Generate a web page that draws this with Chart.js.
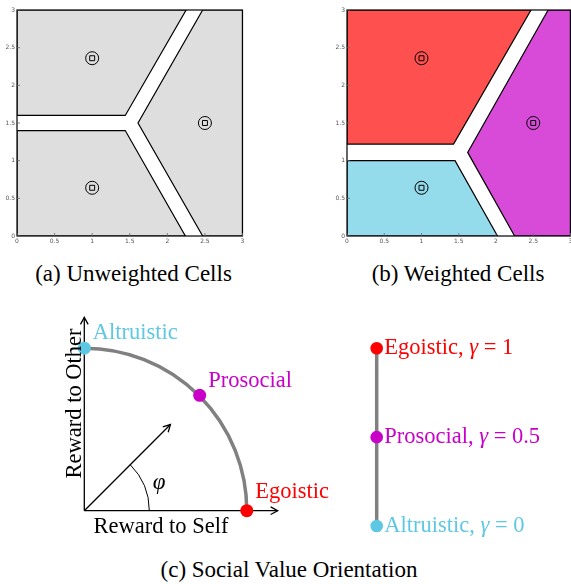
<!DOCTYPE html>
<html>
<head>
<meta charset="utf-8">
<script src="https://cdn.jsdelivr.net/npm/chart.js@4.4.1/dist/chart.umd.min.js"></script>
<style>
  html, body { margin: 0; padding: 0; background: #fff; }
  body { position: relative; width: 571px; height: 584px; overflow: hidden; }
  canvas { position: absolute; }
  .caption { position: absolute; font: 23px "Liberation Serif", serif; line-height: 23px; color: #000; text-align: center; white-space: nowrap; }
</style>
</head>
<body>
<canvas id="unweighted" width="250" height="246" style="left:0;top:0"></canvas>
<canvas id="weighted" width="248" height="246" style="left:330px;top:0"></canvas>
<canvas id="svo" width="310" height="245" style="left:40px;top:300px"></canvas>
<canvas id="gamma" width="231" height="225" style="left:340px;top:320px"></canvas>
<div class="caption" style="left:0;top:262px;width:267px">(a) Unweighted Cells</div>
<div class="caption" style="left:330px;top:262px;width:256px">(b) Weighted Cells</div>
<div class="caption" style="left:100px;top:558px;width:378px">(c) Social Value Orientation</div>

<script>
// agent positions (same in both cell plots)
const siteX = [1, 1, 2.5]
const siteY = [2.36, 0.64, 1.5]

// unweighted cells
const gridTopX = [0, 2.25, 1.44, 0, 0]
const gridTopY = [3, 3, 1.6, 1.6, 3]
const gridBottomX = [0, 1.44, 2.24, 0, 0]
const gridBottomY = [1.4, 1.4, 0, 0, 1.4]
const gridRightX = [2.47, 3, 3, 2.47, 1.61, 2.47]
const gridRightY = [3, 3, 0, 0, 1.5, 3]

// weighted cells
const egoCellX = [0, 2.47, 1.43, 0, 0]
const egoCellY = [3, 3, 1.22, 1.22, 3]
const altCellX = [0, 1.45, 2.02, 0, 0]
const altCellY = [1.0, 1.0, 0, 0, 1.0]
const proCellX = [2.70, 3, 3, 2.25, 1.62, 2.70]
const proCellY = [3, 3, 0, 0, 1.11, 3]

// social value orientation (reward to self / reward to other)
const svoNames = ["Altruistic", "Prosocial", "Egoistic"]
const svoSelf = [0, 0.71, 1]
const svoOther = [1, 0.71, 0]
const svoColors = ["#5ec8e4", "#c800c8", "#ff0000"]
// axis arrows, all start at the origin
const arrowEndX = [1.19, 0, 0.53]
const arrowEndY = [0, 1.19, 0.53]

// gamma scale on the right
const gammaNames = ["Egoistic", "Prosocial", "Altruistic"]
const gammaValues = [1, 0.5, 0]
const gammaColors = ["#ff0000", "#c800c8", "#5ec8e4"]

const zip = (xs, ys) => xs.map((x, i) => ({ x: x, y: ys[i] }))
const SERIF = '"Liberation Serif", "Times New Roman", serif'

// box around the plot + short inward ticks
const framePlugin = {
  id: "frame",
  afterDatasetsDraw(chart) {
    const { ctx, chartArea: a, scales } = chart
    ctx.save()
    ctx.strokeStyle = "#000"
    ctx.lineWidth = 1.2
    ctx.strokeRect(a.left, a.top, a.right - a.left, a.bottom - a.top)
    ctx.lineWidth = 0.8
    ctx.strokeStyle = "#666"
    ctx.beginPath()
    scales.x.ticks.forEach(t => {
      const px = scales.x.getPixelForValue(t.value)
      ctx.moveTo(px, a.bottom)
      ctx.lineTo(px, a.bottom - 3)
    })
    scales.y.ticks.forEach(t => {
      const py = scales.y.getPixelForValue(t.value)
      ctx.moveTo(a.left, py)
      ctx.lineTo(a.left + 3, py)
    })
    ctx.stroke()
    ctx.restore()
  }
}

function cellAxis(size) {
  return {
    type: "linear",
    min: 0,
    max: 3,
    ticks: {
      stepSize: 0.5,
      autoSkip: false,
      maxRotation: 0,
      padding: 2,
      color: "#555",
      font: { family: "DejaVu Sans", size: 6 },
      callback: (v) => String(v)
    },
    grid: { display: false, drawTicks: false },
    border: { display: false },
    afterFit: (scale) => {
      if (scale.isHorizontal()) scale.height = size
      else scale.width = size
    }
  }
}

function cellChart(id, cells) {
  const sites = zip(siteX, siteY)
  const datasets = [
    { data: sites, pointStyle: "rect", pointRadius: 3.5, borderColor: "#000", borderWidth: 1, backgroundColor: "transparent", showLine: false },
    { data: sites, pointStyle: "circle", pointRadius: 6.5, borderColor: "#000", borderWidth: 1, backgroundColor: "transparent", showLine: false }
  ]
  cells.forEach(cell => {
    datasets.push({
      type: "line",
      data: zip(cell.x, cell.y),
      fill: "shape",
      backgroundColor: cell.color,
      borderColor: "#000",
      borderWidth: 1.2,
      pointRadius: 0,
      tension: 0
    })
  })

  return new Chart(document.getElementById(id), {
    type: "scatter",
    data: { datasets: datasets },
    options: {
      responsive: false,
      animation: false,
      devicePixelRatio: 1,
      layout: { padding: { top: 10, right: 5, left: 0, bottom: 0 } },
      scales: { x: cellAxis(10), y: cellAxis(17) },
      plugins: { legend: { display: false }, tooltip: { enabled: false } }
    },
    plugins: [framePlugin]
  })
}

cellChart("unweighted", [
  { x: gridTopX, y: gridTopY, color: "#dedede" },
  { x: gridBottomX, y: gridBottomY, color: "#dedede" },
  { x: gridRightX, y: gridRightY, color: "#dedede" }
])

cellChart("weighted", [
  { x: egoCellX, y: egoCellY, color: "#ff5050" },
  { x: altCellX, y: altCellY, color: "#94dbec" },
  { x: proCellX, y: proCellY, color: "#d84bd9" }
])

// ---- (c) left: reward plane ----
const UNIT = 162.5            // px per reward unit
const svoCanvas = document.getElementById("svo")
const originX = 44.3          // origin inside the canvas
const originY = svoCanvas.height - 34.3

function drawArrowHead(ctx, from, to) {
  const ang = Math.atan2(to.y - from.y, to.x - from.x)
  const len = 8, spread = 0.5
  ctx.beginPath()
  ctx.moveTo(to.x - len * Math.cos(ang - spread), to.y - len * Math.sin(ang - spread))
  ctx.lineTo(to.x, to.y)
  ctx.lineTo(to.x - len * Math.cos(ang + spread), to.y - len * Math.sin(ang + spread))
  ctx.stroke()
}

const svoPlugin = {
  id: "svoDecor",
  beforeDatasetsDraw(chart) {
    const { ctx, scales: { x, y } } = chart
    const cx = x.getPixelForValue(0)
    const cy = y.getPixelForValue(0)
    // quarter circle through the three orientations
    const r = x.getPixelForValue(svoSelf[2]) - cx
    ctx.save()
    ctx.strokeStyle = "#808080"
    ctx.lineWidth = 3.5
    ctx.beginPath()
    ctx.arc(cx, cy, r, -Math.PI / 2, 0)
    ctx.stroke()
    // angle marker for phi
    const ra = x.getPixelForValue(0.4) - cx
    ctx.strokeStyle = "#000"
    ctx.lineWidth = 1
    ctx.beginPath()
    ctx.arc(cx, cy, ra, -Math.PI / 4, 0)
    ctx.stroke()
    ctx.restore()
  },
  afterDatasetsDraw(chart) {
    const { ctx, scales: { x, y } } = chart
    ctx.save()
    ctx.strokeStyle = "#000"
    ctx.lineWidth = 1.3
    for (let i = 1; i <= arrowEndX.length; i++) {
      const pts = chart.getDatasetMeta(i).data
      drawArrowHead(ctx, pts[0], pts[1])
    }

    ctx.font = "22.5px " + SERIF
    ctx.textBaseline = "alphabetic"
    ctx.textAlign = "left"
    const lift = [9, 8.5, 12.5]
    chart.getDatasetMeta(0).data.forEach((p, i) => {
      ctx.fillStyle = svoColors[i]
      ctx.fillText(svoNames[i], p.x + 8.5, p.y - lift[i])
    })

    ctx.fillStyle = "#000"
    ctx.textAlign = "center"
    ctx.fillText("Reward to Self", x.getPixelForValue(0.472), y.getPixelForValue(-0.139))

    ctx.save()
    ctx.translate(x.getPixelForValue(-0.023), y.getPixelForValue(0.66))
    ctx.rotate(-Math.PI / 2)
    ctx.fillText("Reward to Other", 0, 0)
    ctx.restore()

    ctx.font = "italic 23px " + SERIF
    ctx.textBaseline = "middle"
    ctx.fillText("\u03C6", x.getPixelForValue(0.46), y.getPixelForValue(0.17))
    ctx.restore()
  }
}

const svoDatasets = [{
  data: zip(svoSelf, svoOther),
  pointRadius: 6.5,
  pointBackgroundColor: svoColors,
  pointBorderWidth: 0,
  showLine: false,
  clip: false
}]
arrowEndX.forEach((ex, i) => {
  svoDatasets.push({
    data: [{ x: 0, y: 0 }, { x: ex, y: arrowEndY[i] }],
    showLine: true,
    borderColor: "#000",
    borderWidth: 1.3,
    pointRadius: 0,
    clip: false
  })
})

new Chart(svoCanvas, {
  type: "scatter",
  data: { datasets: svoDatasets },
  options: {
    responsive: false,
    animation: false,
    devicePixelRatio: 1,
    layout: { padding: 0, autoPadding: false },
    scales: {
      x: { display: false, min: -originX / UNIT, max: (svoCanvas.width - originX) / UNIT },
      y: { display: false, min: -(svoCanvas.height - originY) / UNIT, max: originY / UNIT }
    },
    plugins: { legend: { display: false }, tooltip: { enabled: false } }
  },
  plugins: [svoPlugin]
})

// ---- (c) right: gamma line ----
const gammaPlugin = {
  id: "gammaLabels",
  afterDatasetsDraw(chart) {
    const { ctx } = chart
    ctx.save()
    ctx.textBaseline = "alphabetic"
    ctx.textAlign = "left"
    chart.getDatasetMeta(0).data.forEach((p, i) => {
      ctx.fillStyle = gammaColors[i]
      const parts = [
        { t: gammaNames[i] + ", ", italic: false },
        { t: "\u03B3", italic: true },
        { t: " = " + gammaValues[i], italic: false }
      ]
      let cx = p.x + 7.5
      const by = p.y + 6
      parts.forEach(part => {
        ctx.font = (part.italic ? "italic " : "") + "22.5px " + SERIF
        ctx.fillText(part.t, cx, by)
        cx += ctx.measureText(part.t).width
      })
    })
    ctx.restore()
  }
}

const gammaPoints = gammaValues.map(g => ({ x: 0, y: g }))
new Chart(document.getElementById("gamma"), {
  type: "scatter",
  data: {
    datasets: [
      { data: gammaPoints, pointRadius: 6.3, pointBackgroundColor: gammaColors, pointBorderWidth: 0, showLine: false, clip: false },
      { data: gammaPoints, showLine: true, borderColor: "#808080", borderWidth: 3.5, pointRadius: 0, clip: false }
    ]
  },
  options: {
    responsive: false,
    animation: false,
    devicePixelRatio: 1,
    layout: { padding: { left: 36.7, top: 28.3, bottom: 19, right: 0 }, autoPadding: false },
    scales: {
      x: { display: false, min: 0, max: 1 },
      y: { display: false, min: 0, max: 1 }
    },
    plugins: { legend: { display: false }, tooltip: { enabled: false } }
  },
  plugins: [gammaPlugin]
})
</script>
</body>
</html>
